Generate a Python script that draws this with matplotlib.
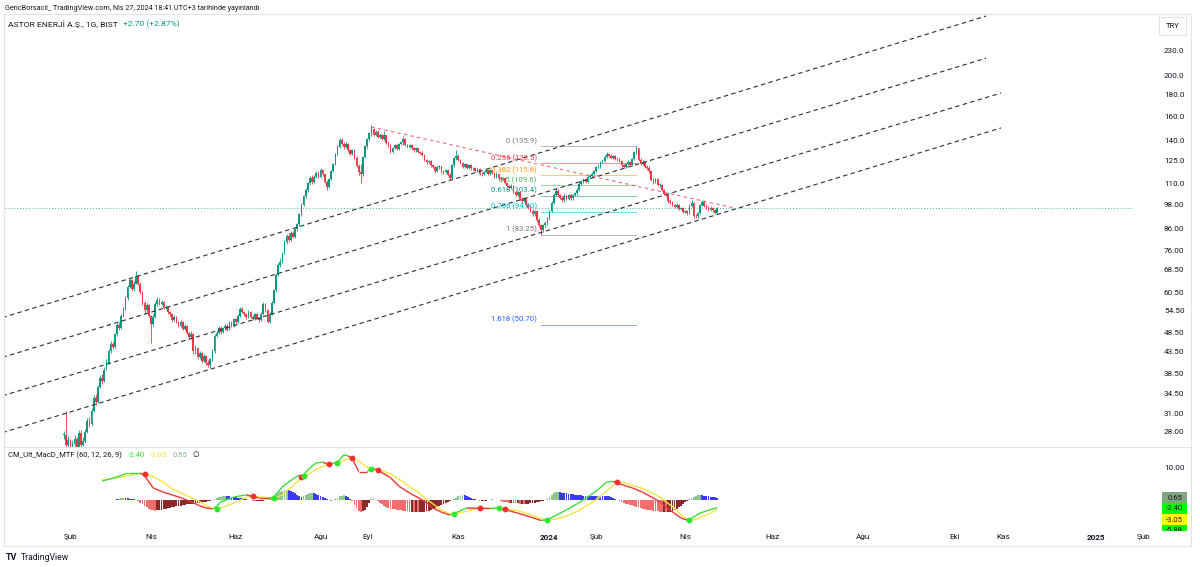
import matplotlib
matplotlib.use('Agg')
import matplotlib.pyplot as plt
import matplotlib.transforms as mtransforms
from matplotlib.collections import LineCollection
from matplotlib.patches import Rectangle
import numpy as np
import pandas as pd

plt.rcParams['font.family'] = ['Roboto', 'DejaVu Sans']

# ---- data -------------------------------------------------------------
holidays = ['2023-02-08', '2023-02-09', '2023-02-10', '2023-02-13', '2023-02-14',
            '2023-04-21', '2023-05-01', '2023-05-19', '2023-06-28', '2023-06-29',
            '2023-06-30', '2023-08-30', '2024-01-01', '2024-04-10', '2024-04-11',
            '2024-04-12', '2024-04-23']
first_day = '2023-01-27'
last_day = '2024-04-26'

closes = [
    27.6, 26.0, 26.8, 25.4, 26.2, 27.0, 25.8, 27.8, 26.0, 26.6,
    28.0, 29.8, 29.2, 31.5, 33.8, 33.0, 36.0, 37.8, 37.2, 39.5,
    41.0, 43.8, 45.6, 44.8, 48.0, 50.6, 49.8, 53.2, 55.4, 58.8,
    62.5, 64.8, 61.8, 63.6, 66.2, 63.5, 60.8, 57.2, 54.8, 56.4,
    53.2, 50.8, 52.8, 56.8, 58.2, 56.9, 57.5, 55.6, 56.0, 54.2,
    53.6, 52.0, 53.0, 51.3, 50.4, 51.5, 49.6, 50.3, 48.3, 47.2,
    48.2, 43.8, 44.6, 42.4, 43.3, 41.4, 42.6, 41.0, 40.6, 41.8,
    43.8, 47.6, 48.3, 49.8, 48.6, 49.7, 50.4, 49.3, 51.2, 50.3,
    52.2, 51.3, 53.2, 55.3, 54.2, 53.6, 52.8, 54.3, 53.0, 52.4,
    53.7, 52.6, 51.9, 53.8, 56.8, 54.8, 51.4, 53.8, 57.2, 61.2,
    66.8, 70.6, 71.6, 75.3, 80.2, 82.8, 80.9, 84.2, 82.3, 85.8,
    88.3, 93.4, 98.3, 103.2, 106.4, 110.8, 114.2, 111.2, 114.8, 117.3,
    114.6, 119.3, 116.2, 111.7, 108.3, 113.3, 118.4, 123.2, 130.4, 135.3,
    140.8, 137.6, 135.6, 137.9, 132.7, 130.4, 132.9, 127.6, 121.8, 117.6,
    116.4, 128.3, 136.2, 141.3, 146.3, 149.6, 144.7, 147.3, 143.2, 144.8,
    141.7, 144.3, 138.6, 136.8, 131.6, 134.3, 136.8, 133.6, 137.3, 139.3,
    141.3, 136.6, 135.2, 136.9, 134.2, 132.7, 134.4, 131.6, 131.2, 129.2,
    125.6, 124.3, 125.3, 122.2, 121.3, 118.2, 120.8, 121.8, 118.2, 117.8,
    119.3, 115.8, 114.2, 122.3, 127.3, 128.7, 125.7, 123.8, 121.2, 122.8,
    120.7, 122.3, 120.2, 120.3, 118.2, 119.8, 116.7, 116.3, 117.8, 118.8,
    116.7, 118.8, 117.2, 114.7, 116.8, 113.7, 113.3, 113.9, 110.7, 109.3,
    107.6, 109.3, 105.7, 103.8, 105.3, 101.7, 100.3, 101.8, 98.2, 96.7,
    95.2, 93.2, 94.8, 90.2, 87.7, 85.3, 87.8, 88.8, 91.3, 94.8,
    99.3, 103.8, 106.3, 103.7, 102.2, 100.7, 103.3, 101.7, 103.8, 101.8,
    103.8, 104.8, 106.8, 110.3, 111.8, 113.3, 111.7, 114.8, 115.3, 116.8,
    118.3, 120.8, 121.2, 124.3, 125.2, 128.3, 130.3, 128.7, 127.2, 128.8,
    126.7, 126.3, 125.2, 122.2, 121.3, 123.3, 124.8, 122.7, 126.3, 131.3,
    134.6, 126.2, 123.3, 124.8, 121.2, 120.7, 118.2, 112.8, 111.2, 113.3,
    109.7, 109.8, 106.7, 104.2, 103.8, 100.2, 99.8, 98.2, 97.2, 98.3,
    96.2, 96.3, 94.7, 94.8, 93.7, 97.8, 99.3, 92.3, 92.2, 93.8,
    98.2, 99.8, 97.7, 96.8, 95.7, 96.8, 95.4, 94.1, 96.8,
]
highs = [
    28.2, 31.5, 27.4, 27.0, 26.8, 27.6, 27.2, 28.3, 28.3, 27.2,
    28.4, 30.2, 30.4, 31.9, 34.3, 34.6, 36.4, 38.4, 38.6, 40.0,
    41.9, 44.2, 46.2, 46.0, 48.5, 51.0, 51.3, 53.6, 55.9, 59.3,
    63.2, 65.5, 65.2, 64.5, 68.0, 66.8, 64.2, 61.0, 57.8, 57.2,
    56.8, 53.4, 53.6, 57.3, 58.9, 58.6, 58.0, 57.8, 56.6, 56.3,
    54.6, 53.9, 53.5, 53.2, 51.6, 51.9, 51.7, 50.8, 50.6, 48.6,
    48.8, 48.5, 45.3, 44.9, 43.8, 43.6, 43.0, 42.9, 41.6, 42.2,
    44.2, 48.1, 49.2, 50.3, 50.2, 50.1, 50.9, 50.8, 51.7, 51.6,
    52.6, 52.7, 53.7, 55.8, 55.9, 54.6, 53.9, 54.8, 54.6, 53.4,
    54.1, 54.0, 53.0, 54.2, 57.4, 57.1, 55.2, 54.3, 57.7, 61.8,
    67.3, 71.2, 73.4, 75.8, 80.8, 83.6, 83.9, 84.9, 85.2, 86.5,
    89.0, 94.0, 99.0, 103.9, 107.8, 111.5, 115.2, 115.8, 115.6, 118.4,
    118.6, 120.4, 120.0, 117.1, 112.5, 114.0, 119.2, 124.0, 131.1, 136.4,
    142.0, 141.9, 139.2, 138.8, 138.6, 133.8, 134.0, 133.6, 128.7, 123.0,
    123.0, 129.0, 137.0, 142.2, 147.2, 152.5, 150.6, 148.5, 148.2, 145.9,
    145.5, 148.0, 144.9, 139.8, 137.4, 135.0, 137.6, 137.3, 138.0, 140.1,
    143.5, 141.9, 137.6, 137.6, 137.3, 134.9, 135.1, 134.8, 132.4, 132.0,
    129.9, 126.4, 126.0, 125.9, 123.0, 121.9, 121.5, 122.6, 122.0, 119.4,
    120.1, 120.0, 116.9, 123.1, 128.2, 133.0, 129.8, 126.4, 124.4, 123.6,
    123.2, 123.0, 122.9, 121.4, 120.9, 120.4, 120.3, 117.9, 118.6, 119.6,
    119.3, 119.5, 119.4, 117.8, 117.6, 117.2, 114.6, 114.7, 114.2, 111.6,
    109.8, 110.1, 109.6, 106.4, 106.0, 105.6, 102.5, 102.6, 101.9, 99.0,
    97.4, 95.9, 95.6, 95.1, 91.2, 88.5, 88.6, 89.9, 92.0, 95.6,
    100.1, 104.7, 107.9, 107.2, 104.6, 103.0, 104.1, 104.0, 104.5, 104.4,
    104.6, 105.6, 107.6, 111.2, 112.7, 114.2, 114.0, 115.6, 116.2, 117.6,
    119.1, 121.6, 123.0, 125.1, 126.4, 129.1, 131.6, 131.0, 129.8, 129.6,
    129.5, 127.9, 127.1, 125.9, 123.1, 124.1, 125.6, 125.5, 127.1, 132.2,
    135.9, 134.8, 127.6, 125.6, 125.3, 122.5, 121.6, 118.9, 113.9, 114.1,
    113.8, 110.9, 110.5, 107.5, 105.0, 104.4, 101.2, 100.5, 98.9, 99.0,
    98.6, 97.0, 96.9, 95.6, 95.4, 98.5, 101.0, 99.6, 93.4, 94.5,
    98.9, 101.0, 100.6, 98.6, 97.4, 97.5, 97.2, 96.0, 97.3,
]
lows = [
    27.0, 25.5, 25.8, 25.0, 25.1, 25.9, 25.4, 25.6, 25.8, 25.9,
    26.3, 27.8, 28.8, 29.0, 31.2, 32.5, 32.8, 35.8, 36.6, 37.0,
    39.9, 40.8, 43.4, 44.2, 44.6, 47.6, 49.3, 49.5, 52.8, 55.0,
    58.2, 61.9, 60.9, 61.0, 63.3, 63.0, 60.0, 56.5, 54.0, 54.3,
    52.8, 45.8, 50.4, 52.5, 56.3, 56.4, 56.5, 55.2, 55.1, 53.8,
    53.2, 51.5, 51.7, 51.0, 50.0, 50.1, 49.2, 49.3, 48.0, 46.8,
    46.8, 43.2, 43.1, 42.0, 41.9, 40.9, 41.2, 40.6, 40.0, 39.8,
    41.5, 43.4, 47.2, 48.0, 48.2, 48.3, 49.3, 49.0, 49.1, 50.0,
    50.0, 50.9, 51.0, 53.0, 53.9, 53.2, 52.4, 52.6, 52.7, 52.0,
    52.1, 52.2, 51.4, 51.6, 53.5, 54.3, 51.0, 51.0, 53.5, 56.8,
    60.8, 66.2, 69.8, 71.2, 74.9, 79.3, 80.1, 80.4, 81.6, 81.9,
    85.2, 87.6, 92.6, 97.5, 101.8, 105.6, 109.8, 110.4, 110.6, 114.1,
    113.8, 113.9, 115.2, 110.6, 106.5, 107.9, 112.6, 117.9, 122.6, 129.4,
    134.6, 136.4, 134.1, 134.8, 131.8, 129.1, 129.6, 126.9, 120.8, 115.8,
    111.0, 115.5, 127.2, 134.8, 139.9, 144.0, 143.5, 143.7, 142.1, 142.3,
    140.9, 140.8, 137.9, 135.4, 130.6, 130.8, 133.5, 132.7, 132.9, 136.4,
    136.5, 135.8, 134.3, 134.4, 133.4, 131.8, 131.9, 130.9, 129.9, 128.4,
    125.0, 123.1, 123.6, 121.4, 120.2, 117.3, 117.5, 119.9, 117.4, 116.6,
    117.1, 115.0, 112.5, 113.6, 121.4, 126.0, 125.0, 122.9, 120.4, 120.6,
    120.0, 119.9, 119.4, 119.3, 117.6, 117.5, 116.0, 115.4, 115.6, 117.0,
    116.0, 116.1, 116.6, 114.0, 114.1, 113.0, 112.4, 112.5, 110.0, 108.6,
    107.0, 107.1, 105.0, 102.9, 103.1, 101.0, 99.4, 99.6, 97.5, 95.9,
    94.4, 92.5, 92.6, 89.5, 86.8, 83.25, 84.6, 86.9, 87.8, 90.6,
    94.2, 98.8, 103.0, 102.9, 101.3, 99.6, 100.0, 100.9, 101.0, 101.0,
    101.0, 103.0, 104.0, 106.2, 109.6, 110.8, 110.9, 111.0, 113.9, 114.6,
    116.0, 117.7, 120.3, 120.6, 123.6, 124.5, 127.4, 127.9, 126.3, 126.5,
    125.9, 125.0, 124.4, 121.4, 120.2, 120.5, 122.4, 121.8, 122.0, 125.6,
    130.1, 125.3, 122.4, 122.2, 120.4, 119.4, 117.4, 112.0, 110.4, 110.6,
    109.0, 108.6, 106.0, 103.5, 102.9, 99.5, 98.9, 97.5, 96.5, 96.6,
    95.5, 95.3, 94.0, 93.9, 92.9, 93.3, 97.0, 91.2, 91.3, 91.6,
    93.2, 97.6, 97.0, 95.9, 95.0, 95.0, 94.6, 93.5, 93.8,
]

# parallel channel drawn on the chart
chan_start = '2022-12-19'
chan_end = ['2024-10-22', '2024-10-22', '2024-10-31', '2024-10-31']
chan_p0 = [52.7, 42.3, 34.2, 27.9]
chan_p1 = [279.0, 221.0, 182.3, 150.3]

# red down trend line
trend_dates = ['2023-09-05', '2024-05-08']
trend_prices = [151.1, 96.6]

# fibonacci retracement
fib_dates = ['2023-12-26', '2024-02-28']
fib_low, fib_high = 83.25, 135.9
fib_ratios = [0, 0.236, 0.382, 0.5, 0.618, 0.786, 1, 1.618]
fib_colors = ['#787b86', '#f23645', '#ff9800', '#4caf50', '#089981', '#00bcd4', '#787b86', '#2962ff']

price_ticks = [230, 200, 180, 160, 140, 125, 110, 98, 86, 76, 68.5, 60.5, 54.5,
               48.5, 43.5, 38.5, 34.5, 31, 28]

month_dates = ['2023-02-01', '2023-04-03', '2023-06-01', '2023-08-01', '2023-09-01',
               '2023-11-01', '2024-01-02', '2024-02-01', '2024-04-01', '2024-06-03',
               '2024-08-01', '2024-10-01', '2024-11-01', '2025-01-02', '2025-02-03']
month_labels = ['Şub', 'Nis', 'Haz', 'Ağu', 'Eyl', 'Kas', '2024', 'Şub', 'Nis', 'Haz',
                'Ağu', 'Eki', 'Kas', '2025', 'Şub']

# CM_Ult_MacD_MTF traced at vertices
macd_bars = [18, 24, 30, 36, 38, 42, 47, 51, 56, 61, 64, 67, 70, 72, 74, 80, 86, 89,
             92, 97, 99, 103, 108, 111, 112, 113, 116, 119, 122, 125, 129, 132, 134,
             136, 139, 143, 145, 148, 154, 158, 163, 168, 171, 174, 178, 182, 184,
             190, 196, 201, 205, 208, 214, 220, 225, 228, 232, 237, 242, 247, 252,
             256, 259, 261, 264, 268, 273, 278, 281, 284, 288, 291, 294, 295, 298,
             300, 304, 308]
macd_vals = [5.9, 7.0, 8.4, 8.4, 7.6, 3.8, 2.4, 1.6, 0.5, -0.9, -1.8, -2.5, -2.8, -2.0,
             -0.6, 0.9, 1.6, 1.1, 0.6, 0.6, 1.0, 4.1, 6.6, 7.8, 7.0, 7.9, 10.0, 11.6,
             11.8, 11.1, 11.8, 14.1, 13.8, 12.9, 8.9, 8.9, 9.9, 9.3, 7.0, 4.3, 2.2,
             0.4, -0.8, -2.5, -3.8, -4.7, -4.2, -2.5, -2.6, -2.7, -2.4, -3.0, -4.1,
             -5.3, -6.4, -6.2, -4.8, -3.1, -1.2, 0.9, 3.3, 5.6, 5.8, 5.4, 4.6, 3.8,
             2.4, 0.6, -0.6, -2.2, -4.2, -5.6, -6.3, -6.1, -4.9, -4.1, -3.2, -2.4]
signal_vals = [6.3, 6.8, 7.6, 8.3, 8.2, 7.3, 5.5, 3.5, 2.0, 0.4, -0.5, -1.8, -2.6, -2.7,
               -2.5, -1.0, 0.8, 1.2, 1.0, 0.7, 0.7, 1.5, 4.5, 6.2, 7.1, 7.4, 8.3, 9.5,
               10.5, 11.25, 11.5, 12.3, 12.9, 13.1, 12.2, 10.3, 9.7, 9.5, 8.2, 6.5,
               4.2, 2.0, 0.2, -1.2, -3.2, -4.3, -4.5, -3.5, -2.5, -2.6, -2.5, -2.7,
               -3.3, -4.6, -5.8, -6.3, -6.0, -5.0, -3.6, -1.6, 0.5, 2.9, 4.5, 5.5,
               5.5, 4.6, 3.6, 2.0, 0.9, -0.6, -2.6, -4.6, -6.0, -6.25, -6.1, -5.5,
               -4.4, -3.05]

hist_start = 25
hist_vals = [
    0.2, 0.4, 0.5, 0.6, 0.6, 0.5, 0.4, 0.3, 0.2, 0.1,
    -0.3, -0.8, -1.3, -1.8, -2.3, -2.7, -3.0, -3.2, -3.3, -3.2,
    -3.1, -3.0, -2.9, -2.8, -2.6, -2.5, -2.3, -2.2, -2.0, -1.9,
    -1.8, -1.6, -1.5, -1.4, -1.3, -1.2, -1.1, -1.0, -0.9, -0.8,
    -0.7, -0.6, -0.5, -0.3, -0.2, -0.1, 0.2, 0.5, 0.8, 1.0,
    1.1, 1.2, 1.2, 1.1, 1.0, 0.9, 0.8, 0.7, 0.6, 0.5,
    0.4, 0.3, 0.1, -0.1, -0.2, -0.3, -0.3, -0.3, -0.2, -0.2,
    -0.1, -0.1, 0.2, 0.6, 1.1, 1.6, 2.1, 2.5, 2.8, 3.0,
    3.1, 3.0, 2.8, 2.5, 2.1, 1.7, 1.3, 1.0, 1.2, 1.6,
    1.9, 2.1, 2.2, 2.1, 1.9, 1.6, 1.3, 1.0, 0.6, 0.3,
    -0.1, -0.2, -0.1, 0.3, 0.7, 1.1, 1.4, 1.5, 1.3, 0.9,
    0.3, -0.4, -1.5, -2.6, -3.4, -3.7, -3.5, -3.0, -2.2, -1.0,
    0.2, 0.3, 0.1, -0.3, -0.8, -1.3, -1.8, -2.2, -2.5, -2.7,
    -2.8, -2.9, -3.0, -3.1, -3.2, -3.3, -3.4, -3.5, -3.6, -3.6,
    -3.7, -3.7, -3.8, -3.8, -3.7, -3.6, -3.5, -3.3, -3.0, -2.7,
    -2.4, -2.1, -1.8, -1.5, -1.2, -0.9, -0.6, -0.4, -0.1, 0.3,
    0.7, 1.1, 1.4, 1.6, 1.5, 1.3, 1.0, 0.7, 0.4, 0.2,
    -0.1, -0.2, -0.2, -0.3, -0.2, -0.1, 0.1, 0.2, 0.1, 0.1,
    -0.1, -0.3, -0.5, -0.6, -0.7, -0.8, -0.8, -0.9, -1.0, -1.0,
    -1.1, -1.1, -1.2, -1.2, -1.1, -1.0, -0.9, -0.8, -0.7, -0.5,
    -0.3, -0.2, -0.1, 0.4, 1.0, 1.6, 2.1, 2.4, 2.5, 2.4,
    2.3, 2.2, 2.1, 2.0, 1.9, 1.8, 1.7, 1.6, 1.5, 1.5,
    1.4, 1.4, 1.4, 1.3, 1.3, 1.3, 1.3, 1.4, 1.4, 1.3,
    1.3, 1.2, 1.1, 0.9, 0.6, 0.3, -0.1, -0.4, -0.7, -0.9,
    -1.1, -1.3, -1.5, -1.7, -1.9, -2.1, -2.3, -2.5, -2.7, -2.9,
    -3.0, -3.1, -3.2, -3.3, -3.4, -3.5, -3.6, -3.7, -3.7, -3.8,
    -3.8, -3.7, -3.5, -3.2, -2.8, -2.3, -1.8, -1.2, -0.7, -0.3,
    0.2, 0.6, 1.0, 1.3, 1.5, 1.6, 1.5, 1.4, 1.2, 1.1,
    1.0, 0.9, 0.8, 0.65,
]

macd_labels = ['-2.40', '-3.05', '0.65']
scale_boxes = ['0.65', '-2.40', '-3.05', '-5.88']
change_text = '+2.70 (+2.87%)'

# ---- calendar (bars only on trading days) -----------------------------
past = pd.bdate_range('2022-12-01', last_day)
past = past[~past.isin(pd.to_datetime(holidays))]
future = pd.bdate_range(pd.Timestamp(last_day) + pd.Timedelta(days=1), '2025-03-31')
cal = past.append(future)
start = int(np.searchsorted(cal, pd.Timestamp(first_day)))


def bar_of(d):
    return int(np.searchsorted(cal, pd.Timestamp(d))) - start


# ---- figure -----------------------------------------------------------
W, H = 1200, 567
fig = plt.figure(figsize=(12, 5.67), dpi=100)
fig.patch.set_facecolor('white')


def fx(px):
    return px / W


def fy(py):
    return 1 - py / H


TXT = '#131722'
BAR0_PX, BAR_PX = 64, 2.12
xlim = ((5 - BAR0_PX) / BAR_PX, (1133 - BAR0_PX) / BAR_PX)

ax = fig.add_axes([fx(5), fy(447), fx(1133) - fx(5), fy(14) - fy(447)])
axm = fig.add_axes([fx(5), fy(531), fx(1133) - fx(5), fy(447) - fy(531)])
for a in (ax, axm):
    a.set_xlim(*xlim)
    a.axis('off')
ax.set_yscale('log')
ax.set_ylim(25.77, 282.1)
axm.set_ylim(-9.69, 16.56)

# frame and pane separator
fig.add_artist(Rectangle((fx(4), fy(546)), fx(1191) - fx(4), fy(14) - fy(546),
                         transform=fig.transFigure, fill=False, ec='#e0e3eb', lw=0.8))
fig.add_artist(plt.Line2D([fx(4), fx(1191)], [fy(447), fy(447)],
                          transform=fig.transFigure, color='#e0e3eb', lw=0.8))

# ---- candles ----------------------------------------------------------
c = np.array(closes)
n = len(c)
x = np.arange(n)
o = np.r_[c[0], c[:-1]]
hi = np.maximum(np.maximum(o, c), highs)
lo = np.minimum(np.minimum(o, c), lows)
cols = np.where(c >= o, '#089981', '#f23645')
ax.vlines(x, lo, hi, colors=cols, lw=0.6, zorder=3)
body_lo = np.minimum(o, c)
body_h = np.maximum(np.abs(c - o), body_lo * 0.004)
ax.bar(x, body_h, bottom=body_lo, width=0.78, color=cols, lw=0, zorder=4)

# current price line
ax.axhline(c[-1], color='#089981', lw=0.7, ls=(0, (1, 2)), alpha=0.7, zorder=2)

# channel
x0 = bar_of(chan_start)
for e, p0, p1 in zip(chan_end, chan_p0, chan_p1):
    ax.plot([x0, bar_of(e)], [p0, p1], color='#2a2e39', lw=0.8, ls=(0, (4, 3)), zorder=5)

# trend line
ax.plot([bar_of(d) for d in trend_dates], trend_prices, color='#f23645', lw=0.8,
        ls=(0, (3, 3)), alpha=0.75, zorder=5)

# fibonacci
fx0, fx1 = bar_of(fib_dates[0]), bar_of(fib_dates[1])
for r, col in zip(fib_ratios, fib_colors):
    p = fib_high - r * (fib_high - fib_low)
    tick = 0.1 if p >= 100 else 0.05
    p_txt = round(p / tick) * tick
    lab = '%g (%s)' % (r, ('%.1f' % p_txt) if p >= 100 else ('%.2f' % p_txt))
    ax.plot([fx0, fx1], [p, p], color=col, lw=0.7, alpha=0.55, zorder=2)
    ax.annotate(lab, xy=(fx0, p), xytext=(-3, 1), textcoords='offset points',
                ha='right', va='bottom', fontsize=5.6, color=col, zorder=6)

# price scale
tr = mtransforms.blended_transform_factory(fig.transFigure, ax.transData)
for t in price_ticks:
    fig.text(fx(1164), t, ('%.1f' % t) if t >= 100 else ('%.2f' % t), transform=tr,
             ha='left', va='center', fontsize=5.9, color=TXT)
fig.add_artist(Rectangle((fx(1159), fy(35)), fx(27), fy(0) - fy(18),
                         transform=fig.transFigure, fill=False, ec='#e0e3eb', lw=0.8))
fig.text(fx(1172.5), fy(26.5), 'TRY', ha='center', va='center', fontsize=5.5, color=TXT)

# titles
fig.text(fx(5), fy(8), 'GencBorsacii_ TradingView.com, Nis 27, 2024 18:41 UTC+3 tarihinde yayınlandı',
         ha='left', va='center', fontsize=5.2, color=TXT)
t1 = fig.text(fx(8), fy(24), 'ASTOR ENERJİ A.Ş., 1G, BIST', ha='left', va='center',
              fontsize=6.1, color=TXT)
fig.canvas.draw()
ax.annotate(change_text, xy=(1, 0.5), xycoords=t1, xytext=(4, 0), textcoords='offset points',
            ha='left', va='center', fontsize=6.1, color='#089981')

# ---- MACD pane --------------------------------------------------------
hb = np.arange(hist_start, hist_start + len(hist_vals))
hv = np.array(hist_vals)
prev = np.r_[hv[0], hv[:-1]]
hcol = np.where(hv > 0, np.where(hv > prev, '#8cc68c', '#3b3bf5'),
                np.where(hv < prev, '#f26d6d', '#8b2a2a'))
axm.bar(hb, hv, width=0.85, color=hcol, lw=0, zorder=2)

mb = np.array(macd_bars)
mv = np.array(macd_vals)
sv = np.array(signal_vals)
above = mv >= sv
segs = [[(mb[i], mv[i]), (mb[i + 1], mv[i + 1])] for i in range(len(mb) - 1)]
seg_cols = ['#3ddc3d' if above[i + 1] else '#e53935' for i in range(len(mb) - 1)]
axm.plot(mb, sv, color='#f5e642', lw=1.0, zorder=3)
axm.add_collection(LineCollection(segs, colors=seg_cols, lw=1.0, zorder=4))
for i in range(1, len(mb)):
    if above[i] != above[i - 1] and mb[i] >= 30:
        axm.plot(mb[i], sv[i], 'o', ms=4.2, mec='none',
                 color='#2ee62e' if above[i] else '#f03030', zorder=5)

# MACD title
t2 = fig.text(fx(8), fy(455), 'CM_Ult_MacD_MTF (60, 12, 26, 9)', ha='left', va='center',
              fontsize=5.5, color=TXT)
fig.canvas.draw()
prev_t = t2
for s, col in zip(macd_labels + ['∅'], ['#2ee62e', '#f0e040', '#7cb87c', TXT]):
    prev_t = ax.annotate(s, xy=(1, 0.5), xycoords=prev_t, xytext=(4, 0),
                         textcoords='offset points', ha='left', va='center',
                         fontsize=5.5, color=col)
    fig.canvas.draw()

# MACD scale
fig.text(fx(1164), fy(468), '10.00', ha='left', va='center', fontsize=5.9, color=TXT)
axr = fig.add_axes([fx(1133), fy(531), fx(1191) - fx(1133), fy(447) - fy(531)])
axr.set_xlim(1133, 1191)
axr.set_ylim(531, 447)
axr.axis('off')
box_y = [492, 503, 514, 525]
box_c = ['#7fa77f', '#00ff00', '#ffff00', '#00ff00']
for s, yb, col in zip(scale_boxes, box_y, box_c):
    axr.add_patch(Rectangle((1162, yb), 25, 10.5, fc=col, ec='none'))
    axr.text(1174.5, yb + 5.5, s, ha='center', va='center', fontsize=5.5, color=TXT,
             clip_on=True)

# time axis
trx = mtransforms.blended_transform_factory(axm.transData, fig.transFigure)
for d, lab in zip(month_dates, month_labels):
    bold = lab.isdigit()
    fig.text(bar_of(d), fy(537), lab, transform=trx, ha='center', va='center',
             fontsize=5.9, color=TXT, fontweight='bold' if bold else 'normal')

# logo
fig.text(fx(6), fy(557), 'TV', ha='left', va='center', fontsize=6.5, fontweight='bold', color=TXT)
fig.text(fx(21), fy(557), 'TradingView', ha='left', va='center', fontsize=6.2, color=TXT)

fig.savefig('out.png', dpi=100)
